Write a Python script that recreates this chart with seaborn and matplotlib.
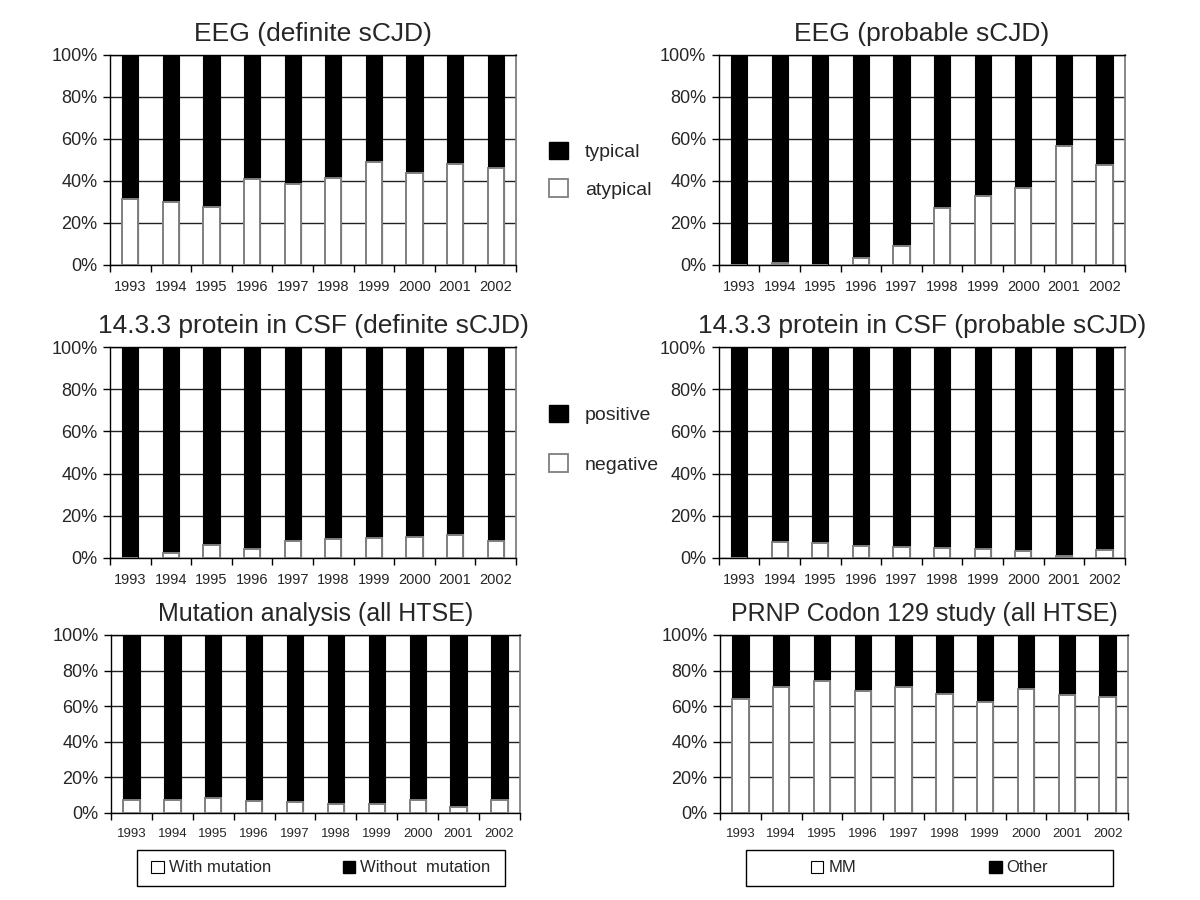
import numpy as np
import pandas as pd
import matplotlib
matplotlib.use('Agg')
import matplotlib.pyplot as plt
from matplotlib.patches import Patch, Rectangle
from matplotlib.ticker import FuncFormatter
import seaborn as sns

sns.set_style('white')
plt.rcParams['font.family'] = ['Liberation Sans', 'DejaVu Sans']

# Data: share (%) of the white (lower) segment per year; black segment is the rest
YEARS = ['1993', '1994', '1995', '1996', '1997', '1998', '1999', '2000', '2001', '2002']
eeg_definite_atypical = [31.4, 30.0, 27.8, 41.0, 38.7, 41.3, 48.9, 44.0, 48.3, 46.3]
eeg_probable_atypical = [0.0, 0.8, 0.0, 3.2, 8.9, 27.0, 32.9, 36.8, 56.8, 47.6]
csf_definite_negative = [0.0, 2.5, 6.3, 4.4, 8.1, 9.0, 9.5, 10.0, 10.9, 8.1]
csf_probable_negative = [0.0, 7.6, 7.3, 5.5, 5.4, 4.9, 4.4, 3.2, 0.8, 3.8]
mutation_with = [7.5, 7.5, 8.3, 6.6, 6.0, 5.3, 5.3, 7.1, 3.6, 7.1]
codon_mm = [63.8, 70.7, 74.1, 68.5, 70.7, 66.8, 62.5, 69.4, 66.0, 65.1]

GRAY = '#7f7f7f'


def draw_panel(ax, white, title, xfs, tfs):
    df = pd.DataFrame({'year': YEARS, 'white': white})
    df['black'] = 100 - df['white']
    df['total'] = df['white'] + df['black']
    sns.barplot(data=df, x='year', y='total', color='black', width=0.4,
                edgecolor='black', linewidth=0.8, saturation=1, errorbar=None,
                ax=ax, zorder=2)
    sns.barplot(data=df, x='year', y='white', color='white', width=0.4,
                edgecolor=GRAY, linewidth=1.4, saturation=1, errorbar=None,
                ax=ax, zorder=3)
    ax.set_xlim(-0.5, 9.5)
    ax.set_ylim(0, 100)
    ax.set_yticks(range(0, 101, 20))
    ax.yaxis.set_major_formatter(FuncFormatter(lambda v, p: f'{int(v)}%'))
    ax.yaxis.grid(True, color='#222222', lw=1)
    ax.set_axisbelow(True)
    ax.set_xticks(np.arange(-0.5, 10, 1), minor=True)
    ax.tick_params(axis='x', which='major', length=0, labelsize=xfs, pad=11)
    ax.tick_params(axis='x', which='minor', length=5, width=1, color='black',
                   direction='out', bottom=True)
    ax.tick_params(axis='y', length=5, width=1, color='black', direction='out',
                   left=True, labelsize=13, pad=4)
    ax.set_xlabel('')
    ax.set_ylabel('')
    for s in ['left', 'bottom', 'top']:
        ax.spines[s].set_color('black')
        ax.spines[s].set_linewidth(1)
    ax.spines['right'].set_color(GRAY)
    ax.spines['right'].set_linewidth(1.3)
    ax.set_title(title, fontsize=tfs, pad=10)


fig = plt.figure(figsize=(12, 9), dpi=100)

ax1 = fig.add_axes([0.0917, 0.7056, 0.3383, 0.2333])
ax2 = fig.add_axes([0.599, 0.7056, 0.3383, 0.2333])
ax3 = fig.add_axes([0.0917, 0.38, 0.3383, 0.2344])
ax4 = fig.add_axes([0.599, 0.38, 0.3383, 0.2344])
ax5 = fig.add_axes([0.0925, 0.0967, 0.3408, 0.1978])
ax6 = fig.add_axes([0.6, 0.0967, 0.34, 0.1978])

draw_panel(ax1, eeg_definite_atypical, 'EEG (definite sCJD)', 10.5, 19)
draw_panel(ax2, eeg_probable_atypical, 'EEG (probable sCJD)', 10.5, 19)
draw_panel(ax3, csf_definite_negative, '14.3.3 protein in CSF (definite sCJD)', 10.5, 19)
draw_panel(ax4, csf_probable_negative, '14.3.3 protein in CSF (probable sCJD)', 10.5, 19)
draw_panel(ax5, mutation_with, 'Mutation analysis (all HTSE)', 9.5, 18)
draw_panel(ax6, codon_mm, 'PRNP Codon 129 study (all HTSE)', 9.5, 18)

blk = Patch(facecolor='black', edgecolor='black')
wht = Patch(facecolor='white', edgecolor=GRAY, linewidth=1.3)

fig.legend([blk, wht], ['typical', 'atypical'], loc='center left',
           bbox_to_anchor=(0.443, 0.811), frameon=False, fontsize=14,
           handlelength=0.95, handleheight=1.0, labelspacing=0.95, handletextpad=0.9)
fig.legend([blk, wht], ['positive', 'negative'], loc='center left',
           bbox_to_anchor=(0.443, 0.512), frameon=False, fontsize=14,
           handlelength=0.95, handleheight=1.0, labelspacing=1.55, handletextpad=0.9)

# bottom legends: framed boxes
wht_s = Patch(facecolor='white', edgecolor='black', linewidth=0.8)
for labels, x0, x1, gap in [(['With mutation', 'Without  mutation'], 137, 505, 4.3),
                            (['MM', 'Other'], 746, 1113, 8.0)]:
    fig.patches.append(Rectangle((x0 / 1200, 14 / 900), (x1 - x0) / 1200, 36 / 900,
                                 transform=fig.transFigure, facecolor='none',
                                 edgecolor='black', linewidth=1))
    fig.legend([wht_s, blk], labels, loc='center', ncol=2,
               bbox_to_anchor=((x0 + x1) / 2400, 32 / 900), frameon=False,
               fontsize=12, handlelength=0.75, handleheight=0.75,
               handletextpad=0.3, columnspacing=gap)

fig.savefig('out.png', dpi=100)
